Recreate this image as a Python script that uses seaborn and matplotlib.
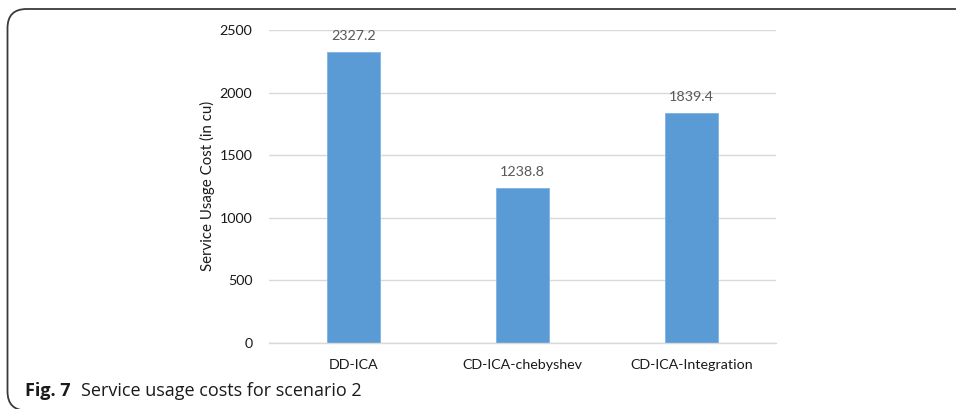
import matplotlib
matplotlib.use("Agg")
import matplotlib.pyplot as plt
import seaborn as sns
import pandas as pd
from matplotlib.patches import FancyBboxPatch

categories = ["DD-ICA", "CD-ICA-chebyshev", "CD-ICA-Integration"]
costs = [2327.2, 1238.8, 1839.4]
yticks = [0, 500, 1000, 1500, 2000, 2500]

df = pd.DataFrame({"method": categories, "cost": costs})

sns.set_theme(style="white")
plt.rcParams["font.family"] = ["Lato", "DejaVu Sans"]

W, H = 956, 409
fig = plt.figure(figsize=(W / 100, H / 100), dpi=100)
ax = fig.add_axes([269 / W, 1 - 342.7 / H, 507 / W, (342.7 - 30) / H])

sns.barplot(data=df, x="method", y="cost", ax=ax, color="#5B9BD5",
            saturation=1, width=0.315, edgecolor="#7FB2E0", linewidth=0.6)

ax.set_ylim(0, 2500)
ax.set_xlim(-0.5, 2.5)
ax.set_yticks(yticks)
ax.set_yticklabels([str(v) for v in yticks])
ax.grid(axis="y", color="#D9D9D9", linewidth=1)
ax.set_axisbelow(True)
for s in ["top", "right", "left"]:
    ax.spines[s].set_visible(False)
ax.spines["bottom"].set_color("#D9D9D9")
ax.spines["bottom"].set_linewidth(1)
ax.tick_params(axis="both", length=0, labelsize=10.3, colors="#1a1a1a")
ax.tick_params(axis="y", pad=12)
ax.tick_params(axis="x", pad=12)
ax.set_xlabel("")
ax.set_ylabel("Service Usage Cost (in cu)", fontsize=10.8, color="#1a1a1a", labelpad=3)

for i, v in enumerate(costs):
    ax.annotate(f"{v:.1f}", (i, v), xytext=(0, 7), textcoords="offset points",
                ha="center", va="bottom", fontsize=10.3, color="#595959")

# frame
frame = FancyBboxPatch((7.5 / W, -1.5 / H), (980 - 7.5) / W, (H - 9 + 1.5) / H,
                       boxstyle="round,pad=0,rounding_size=0.02",
                       transform=fig.transFigure, fill=False,
                       edgecolor="#3a3a3a", linewidth=1.3, clip_on=False,
                       mutation_aspect=W / H)
fig.patches.append(frame)

# caption
t1 = fig.text(25 / W, 1 - 396.5 / H, "Fig. 7", fontsize=13, fontweight="bold",
              family=["Open Sans", "DejaVu Sans"], color="#1a1a1a", va="baseline")
fig.canvas.draw()
bb = t1.get_window_extent(fig.canvas.get_renderer())
fig.text(bb.x1 / W + 10 / W, 1 - 396.5 / H, "Service usage costs for scenario 2",
         fontsize=13, family=["Open Sans", "DejaVu Sans"], color="#1a1a1a",
         va="baseline")

fig.savefig("out.png", dpi=100)
